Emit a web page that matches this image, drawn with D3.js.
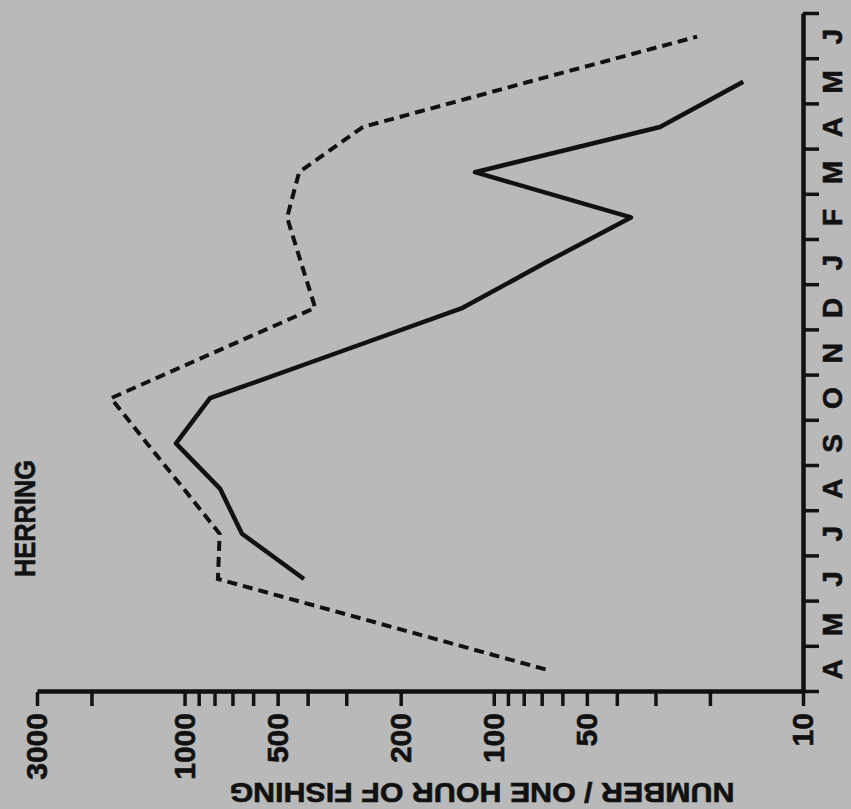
<!DOCTYPE html>
<html>
<head>
<meta charset="utf-8">
<script src="https://cdn.jsdelivr.net/npm/d3@7"></script>
<style>
  body { margin: 0; background: #b9b9b9; }
  svg { display: block; }
</style>
</head>
<body>
<div id="chart"></div>
<script>
// months from April to June of the following year
var months = ["A", "M", "J", "J", "A", "S", "O", "N", "D", "J", "F", "M", "A", "M", "J"];

// catch per hour, solid line (June .. May)
var solidCatch = [null, null, 411, 652, 768, 1066, 827, 322, 126, 68, 36, 115, 29, 15.6, null];
// catch per hour, dashed line (April .. June)
var dashedCatch = [68, 230, 780, 770, 1007, 1322, 1730, 810, 378, 420, 466, 426, 265, 77, 22];

var yTicks = [3000, 2000, 1000, 900, 800, 700, 600, 500, 400, 300, 200, 100, 90, 80, 70, 60, 50, 40, 30, 20, 10];
var yLabels = [3000, 1000, 500, 200, 100, 50, 10];

var W = 851, H = 809;
var ink = "#111";
var font = "'Liberation Sans', Arial, sans-serif";

var svg = d3.select("#chart").append("svg")
    .attr("width", W)
    .attr("height", H);

svg.append("rect").attr("width", W).attr("height", H).attr("fill", "#b9b9b9");

// the whole figure is printed turned a quarter turn, so draw it upright and rotate
var g = svg.append("g")
    .attr("transform", "translate(0," + H + ") rotate(-90)");

var x = d3.scaleLinear().domain([0, months.length]).range([117, 795]);
var y = d3.scaleLog().domain([10, 3000]).range([803, 37]);

// month axis
var xAxis = g.append("g")
    .attr("transform", "translate(0," + y(10) + ")")
    .call(d3.axisBottom(x)
        .tickValues(d3.range(0, months.length + 1))
        .tickSize(16)
        .tickSizeOuter(0)
        .tickFormat(""));

// value axis
var yAxis = g.append("g")
    .attr("transform", "translate(" + x(0) + ",0)")
    .call(d3.axisLeft(y)
        .tickValues(yTicks)
        .tickSize(14)
        .tickSizeOuter(0)
        .tickPadding(7)
        .tickFormat(function(d) { return yLabels.indexOf(d) >= 0 ? d : ""; }));

[xAxis, yAxis].forEach(function(a) {
    a.select(".domain").attr("stroke", ink).attr("stroke-width", 4.5);
    a.selectAll(".tick line").attr("stroke", ink).attr("stroke-width", 3.5);
});

yAxis.selectAll(".tick text")
    .attr("fill", ink)
    .attr("stroke", ink)
    .attr("stroke-width", 0.6)
    .style("font-family", font)
    .style("font-weight", "bold")
    .style("font-size", "30px");

g.selectAll(".mlab")
    .data(months)
    .join("text")
    .attr("class", "mlab")
    .attr("x", function(d, i) { return x(i + 0.5); })
    .attr("y", 842)
    .attr("text-anchor", "middle")
    .attr("fill", ink)
    .attr("stroke", ink)
    .attr("stroke-width", 0.6)
    .style("font-family", font)
    .style("font-weight", "bold")
    .style("font-size", "28px")
    .text(function(d) { return d; });

// axis title
g.append("text")
    .attr("transform", "translate(26,482) rotate(-90)")
    .attr("text-anchor", "middle")
    .attr("textLength", 505)
    .attr("lengthAdjust", "spacingAndGlyphs")
    .attr("fill", ink)
    .attr("stroke", ink)
    .attr("stroke-width", 0.6)
    .style("font-family", font)
    .style("font-weight", "bold")
    .style("font-size", "28px")
    .text("NUMBER / ONE  HOUR OF FISHING");

g.append("text")
    .attr("x", 232)
    .attr("y", 35)
    .attr("textLength", 117)
    .attr("lengthAdjust", "spacingAndGlyphs")
    .attr("fill", ink)
    .attr("stroke", ink)
    .attr("stroke-width", 0.6)
    .style("font-family", font)
    .style("font-weight", "bold")
    .style("font-size", "29px")
    .text("HERRING");

var line = d3.line()
    .defined(function(d) { return d != null; })
    .x(function(d, i) { return x(i + 0.5); })
    .y(function(d) { return y(d); });

g.append("path")
    .datum(dashedCatch)
    .attr("d", line)
    .attr("fill", "none")
    .attr("stroke", ink)
    .attr("stroke-width", 4)
    .attr("stroke-dasharray", "10,6");

g.append("path")
    .datum(solidCatch)
    .attr("d", line)
    .attr("fill", "none")
    .attr("stroke", ink)
    .attr("stroke-width", 4.5)
    .attr("stroke-linejoin", "round");
</script>
</body>
</html>
